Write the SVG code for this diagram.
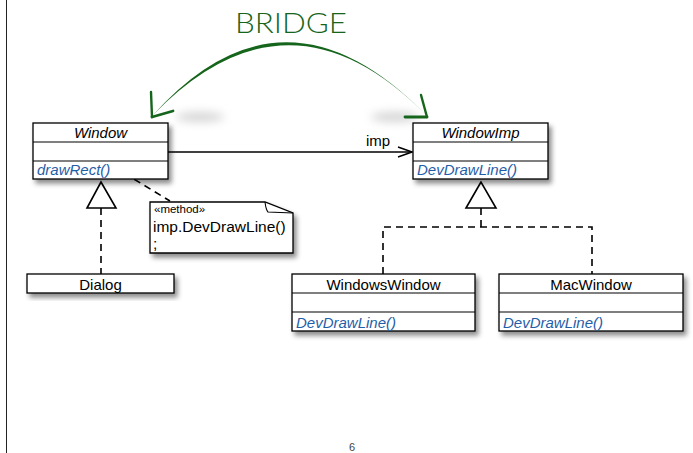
<svg xmlns="http://www.w3.org/2000/svg" width="693" height="453" viewBox="0 0 693 453">
<defs>
<filter id="sh" x="-10%" y="-20%" width="130%" height="160%">
<feDropShadow dx="3" dy="4" stdDeviation="2.5" flood-color="#000" flood-opacity="0.45"/>
</filter>
<filter id="blur" x="-50%" y="-100%" width="200%" height="300%">
<feGaussianBlur stdDeviation="5"/>
</filter>
<marker id="open" viewBox="0 0 16 12" refX="15" refY="6" markerWidth="16" markerHeight="12" markerUnits="userSpaceOnUse" orient="auto">
<path d="M1,1 L15,6 L1,11" fill="none" stroke="#000" stroke-width="1.4"/>
</marker>
</defs>
<style>
.box{fill:#fff;stroke:#000;stroke-width:1.3}
.row{stroke:#000;stroke-width:1.1}
.t{font-family:"Liberation Sans",Arial,sans-serif;font-size:15px;fill:#000}
.it{font-style:italic}
.blue{fill:#1f5ea8}
.small{font-size:11.5px}
.dash{fill:none;stroke:#000;stroke-width:1.6;stroke-dasharray:7,5}
.tri{fill:#fff;stroke:#000;stroke-width:1.6}
.brush{fill:#16651c}
.barb{fill:none;stroke:#16651c;stroke-linecap:round}
</style>
<rect width="693" height="453" fill="#fff"/>
<line x1="6.5" y1="0" x2="6.5" y2="453" stroke="#222" stroke-width="1"/>

<g id="bridge">
<ellipse cx="200" cy="117" rx="24" ry="5" fill="#d4d4d4" filter="url(#blur)"/>
<ellipse cx="395" cy="117" rx="24" ry="5" fill="#d4d4d4" filter="url(#blur)"/>
<path class="brush" d="M153,115 Q284,-31 427,116 Q289,-25 153,115 Z"/>
<path class="barb" d="M152,117 L151,92" stroke-width="2.4"/>
<path class="barb" d="M152,117 L173,111" stroke-width="2.8"/>
<path class="barb" d="M427,117 L421,95" stroke-width="2.4"/>
<path class="barb" d="M427,117 L405,117" stroke-width="2.8"/>
<text x="235" y="33" font-family="Lato,'Open Sans','DejaVu Sans',sans-serif" font-weight="300" font-size="27" fill="#16651c" textLength="112" lengthAdjust="spacingAndGlyphs">BRIDGE</text>
</g>

<g id="connectors">
<line x1="168" y1="152" x2="412" y2="152" stroke="#000" stroke-width="1.4" marker-end="url(#open)"/>
<text class="t" x="366" y="146">imp</text>
<line class="dash" x1="124" y1="173" x2="170" y2="201"/>
<circle cx="124" cy="173" r="4.2" fill="#000"/>
<line class="dash" x1="101" y1="208" x2="101" y2="274"/>
<polygon class="tri" points="101,182 87,208 116,208"/>
<polyline class="dash" points="481,208 481,227"/>
<polyline class="dash" points="383,274 383,227 592,227 592,274"/>
<polygon class="tri" points="481,182 466,208 496,208"/>
</g>

<g id="window">
<rect class="box" x="33" y="123" width="135" height="56" filter="url(#sh)"/>
<line class="row" x1="33" y1="142" x2="168" y2="142"/>
<line class="row" x1="33" y1="161" x2="168" y2="161"/>
<text class="t it" x="100.5" y="137.5" text-anchor="middle">Window</text>
<text class="t it blue" x="37" y="175">drawRect()</text>
</g>

<g id="note">
<path class="box" d="M150,202 H265 L293,213 V253 H150 Z" filter="url(#sh)"/>
<path d="M265,202 Q266,210 268,212 L293,213" fill="none" stroke="#000" stroke-width="1.1"/>
<text class="t small" x="154" y="213">«method»</text>
<text class="t" x="153" y="232" style="font-size:15.5px">imp.DevDrawLine()</text>
<text class="t" x="153" y="249" style="font-size:15.5px">;</text>
</g>

<g id="dialog">
<rect class="box" x="27" y="274" width="147" height="19" filter="url(#sh)"/>
<text class="t" x="100.5" y="290" text-anchor="middle">Dialog</text>
</g>

<g id="windowimp">
<rect class="box" x="413" y="123" width="135" height="56" filter="url(#sh)"/>
<line class="row" x1="413" y1="142" x2="548" y2="142"/>
<line class="row" x1="413" y1="161" x2="548" y2="161"/>
<text class="t it" x="480.5" y="137.5" text-anchor="middle">WindowImp</text>
<text class="t it blue" x="417" y="175">DevDrawLine()</text>
</g>

<g id="windowswindow">
<rect class="box" x="292" y="274" width="183" height="57" filter="url(#sh)"/>
<line class="row" x1="292" y1="293" x2="475" y2="293"/>
<line class="row" x1="292" y1="312" x2="475" y2="312"/>
<text class="t" x="383.5" y="290" text-anchor="middle">WindowsWindow</text>
<text class="t it blue" x="296" y="328">DevDrawLine()</text>
</g>

<g id="macwindow">
<rect class="box" x="499" y="274" width="184" height="57" filter="url(#sh)"/>
<line class="row" x1="499" y1="293" x2="683" y2="293"/>
<line class="row" x1="499" y1="312" x2="683" y2="312"/>
<text class="t" x="591" y="290" text-anchor="middle">MacWindow</text>
<text class="t it blue" x="503" y="328">DevDrawLine()</text>
</g>

<text x="352" y="451" font-family="'Liberation Sans',Arial,sans-serif" font-size="11" fill="#444" text-anchor="middle">6</text>
</svg>
